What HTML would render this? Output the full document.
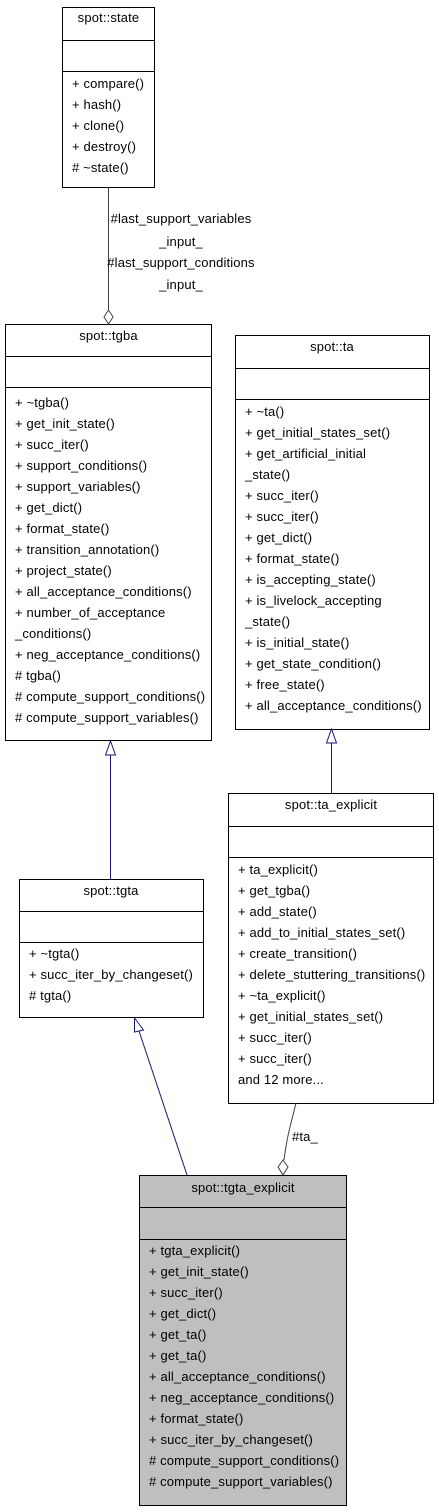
<!DOCTYPE html>
<html><head><meta charset="utf-8"><style>
html,body{margin:0;padding:0;background:#fff;}
svg{display:block;}
text{font-family:"Liberation Sans",Helvetica,sans-serif;font-size:13px;letter-spacing:0.15px;fill:#000;}
</style></head><body>
<svg width="439" height="1512" viewBox="0 0 439 1512" xmlns="http://www.w3.org/2000/svg">
<g stroke="#000" stroke-width="1" fill="#fff">
<rect x="62.5" y="7.5" width="92" height="180"/>
<line x1="62.5" y1="40.5" x2="154.5" y2="40.5"/>
<line x1="62.5" y1="71.5" x2="154.5" y2="71.5"/>
<rect x="5.5" y="324.5" width="206" height="416"/>
<line x1="5.5" y1="356.5" x2="211.5" y2="356.5"/>
<line x1="5.5" y1="387.5" x2="211.5" y2="387.5"/>
<rect x="235.5" y="335.5" width="194" height="394"/>
<line x1="235.5" y1="368.5" x2="429.5" y2="368.5"/>
<line x1="235.5" y1="399.5" x2="429.5" y2="399.5"/>
<rect x="228.5" y="793.5" width="205" height="310"/>
<line x1="228.5" y1="826.5" x2="433.5" y2="826.5"/>
<line x1="228.5" y1="857.5" x2="433.5" y2="857.5"/>
<rect x="19.5" y="879.5" width="184" height="138"/>
<line x1="19.5" y1="911.5" x2="203.5" y2="911.5"/>
<line x1="19.5" y1="942.5" x2="203.5" y2="942.5"/>
<rect x="139.5" y="1175.5" width="207" height="330" fill="#bfbfbf"/>
<line x1="139.5" y1="1207.5" x2="346.5" y2="1207.5"/>
<line x1="139.5" y1="1239.5" x2="346.5" y2="1239.5"/>
</g>
<g fill="none" stroke-width="1">
<line x1="108.5" y1="187" x2="108.5" y2="310" stroke="#404040"/>
<polygon points="108.5,310 113,317 108.5,324 104,317" fill="#fff" stroke="#404040"/>
<line x1="110.5" y1="755" x2="110.5" y2="879" stroke="#191970"/>
<polygon points="110.5,741 115.5,755 105.5,755" fill="#fff" stroke="#191970"/>
<line x1="331.5" y1="743" x2="331.5" y2="793" stroke="#191970"/>
<polygon points="331.5,729 336.5,743 326.5,743" fill="#fff" stroke="#191970"/>
<line x1="139" y1="1031" x2="187" y2="1175" stroke="#191970"/>
<polygon points="134.5,1018 143.5,1030 134.5,1032" fill="#fff" stroke="#191970"/>
<path d="M296,1103 C292,1120 287,1135 284,1160" stroke="#404040"/>
<polygon points="283,1160 288,1167 283,1175 278,1167" fill="#fff" stroke="#404040"/>
</g>
<g text-anchor="middle">
<text x="108.5" y="22">spot::state</text>
<text x="108.5" y="340">spot::tgba</text>
<text x="332" y="351">spot::ta</text>
<text x="331" y="809">spot::ta_explicit</text>
<text x="111" y="895">spot::tgta</text>
<text x="243" y="1192">spot::tgta_explicit</text>
<text x="181" y="223">#last_support_variables</text>
<text x="181" y="246">_input_</text>
<text x="181" y="267">#last_support_conditions</text>
<text x="181" y="289">_input_</text>
</g>
<text x="292" y="1141">#ta_</text>
<g>
<text x="72" y="88">+ compare()</text>
<text x="72" y="109">+ hash()</text>
<text x="72" y="130">+ clone()</text>
<text x="72" y="151">+ destroy()</text>
<text x="72" y="172"># ~state()</text>
</g>
<g>
<text x="15" y="407">+ ~tgba()</text>
<text x="15" y="428">+ get_init_state()</text>
<text x="15" y="449">+ succ_iter()</text>
<text x="15" y="470">+ support_conditions()</text>
<text x="15" y="491">+ support_variables()</text>
<text x="15" y="512">+ get_dict()</text>
<text x="15" y="533">+ format_state()</text>
<text x="15" y="554">+ transition_annotation()</text>
<text x="15" y="575">+ project_state()</text>
<text x="15" y="596">+ all_acceptance_conditions()</text>
<text x="15" y="617">+ number_of_acceptance</text>
<text x="15" y="638">_conditions()</text>
<text x="15" y="659">+ neg_acceptance_conditions()</text>
<text x="15" y="680"># tgba()</text>
<text x="15" y="701"># compute_support_conditions()</text>
<text x="15" y="722"># compute_support_variables()</text>
</g>
<g>
<text x="245" y="416">+ ~ta()</text>
<text x="245" y="437">+ get_initial_states_set()</text>
<text x="245" y="458">+ get_artificial_initial</text>
<text x="245" y="479">_state()</text>
<text x="245" y="500">+ succ_iter()</text>
<text x="245" y="521">+ succ_iter()</text>
<text x="245" y="542">+ get_dict()</text>
<text x="245" y="563">+ format_state()</text>
<text x="245" y="584">+ is_accepting_state()</text>
<text x="245" y="605">+ is_livelock_accepting</text>
<text x="245" y="626">_state()</text>
<text x="245" y="647">+ is_initial_state()</text>
<text x="245" y="668">+ get_state_condition()</text>
<text x="245" y="689">+ free_state()</text>
<text x="245" y="710">+ all_acceptance_conditions()</text>
</g>
<g>
<text x="238" y="874">+ ta_explicit()</text>
<text x="238" y="895">+ get_tgba()</text>
<text x="238" y="916">+ add_state()</text>
<text x="238" y="937">+ add_to_initial_states_set()</text>
<text x="238" y="958">+ create_transition()</text>
<text x="238" y="979">+ delete_stuttering_transitions()</text>
<text x="238" y="1000">+ ~ta_explicit()</text>
<text x="238" y="1021">+ get_initial_states_set()</text>
<text x="238" y="1042">+ succ_iter()</text>
<text x="238" y="1063">+ succ_iter()</text>
<text x="238" y="1084">and 12 more...</text>
</g>
<g>
<text x="29" y="958">+ ~tgta()</text>
<text x="29" y="979">+ succ_iter_by_changeset()</text>
<text x="29" y="1000"># tgta()</text>
</g>
<g>
<text x="149" y="1255">+ tgta_explicit()</text>
<text x="149" y="1276">+ get_init_state()</text>
<text x="149" y="1297">+ succ_iter()</text>
<text x="149" y="1318">+ get_dict()</text>
<text x="149" y="1339">+ get_ta()</text>
<text x="149" y="1360">+ get_ta()</text>
<text x="149" y="1381">+ all_acceptance_conditions()</text>
<text x="149" y="1402">+ neg_acceptance_conditions()</text>
<text x="149" y="1423">+ format_state()</text>
<text x="149" y="1444">+ succ_iter_by_changeset()</text>
<text x="149" y="1465"># compute_support_conditions()</text>
<text x="149" y="1486"># compute_support_variables()</text>
</g>
</svg>
</body></html>
